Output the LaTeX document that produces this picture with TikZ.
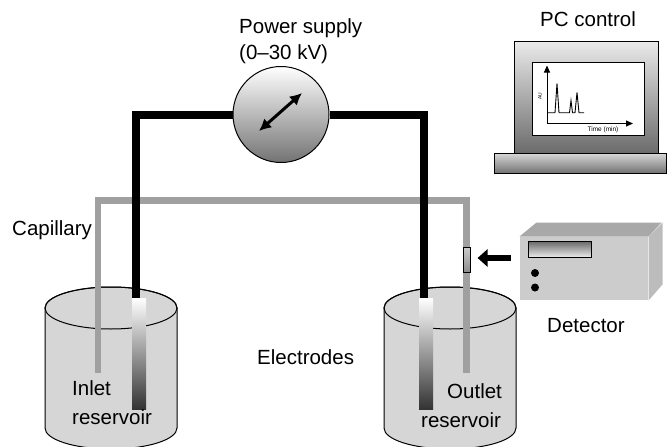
\documentclass[tikz,border=0pt]{standalone}
\usepackage{fontspec}
\setmainfont{Liberation Sans}
\usetikzlibrary{arrows.meta}

\definecolor{capgray}{RGB}{160,160,160}
\definecolor{tankgray}{RGB}{214,214,214}
\definecolor{detfront}{RGB}{204,204,204}
\definecolor{dettop}{RGB}{168,168,168}
\definecolor{detside}{RGB}{188,188,188}

\tikzset{
  lbl/.style={font=\fontsize{20.5}{25}\selectfont, inner sep=0pt, anchor=base west},
  box/.style={rectangle, inner sep=0pt, line width=1pt},
}

\begin{document}
\begin{tikzpicture}[x=1pt, y=-1pt,
    wire/.style={line width=8pt, black, line join=miter},
    capil/.style={line width=6.5pt, capgray, line join=miter},
    electrode/.style={box, minimum width=14pt, minimum height=111pt, top color=white, bottom color=black!80},
    tank/.style={draw, line width=1pt, fill=tankgray},
    axis/.style={line width=1pt, -{Triangle[length=7pt, width=6pt]}},
  ]
    \useasboundingbox (0,0) rectangle (667,447);

    % reservoirs
    \foreach \cx in {111,450}{
      \filldraw[tank] (\cx-66,308) -- (\cx-66,428)
        arc[start angle=180, end angle=0, x radius=66, y radius=21]
        -- (\cx+66,308)
        arc[start angle=0, end angle=-180, x radius=66, y radius=21] -- cycle;
      \draw[line width=1pt] (\cx,308) ellipse[x radius=66, y radius=21];
    }

    % capillary
    \coordinate (capin) at (98,373);
    \coordinate (captop) at (280,200.5);
    \coordinate (capout) at (466.5,373);
    \draw[capil] (capin) |- (captop) -| (capout);

    % power supply and electrodes
    \node[circle, draw, line width=1pt, minimum size=96pt, inner sep=0pt,
          top color=white, middle color=white!85!black, bottom color=black!55] (psu) at (281,114.5) {};
    \draw[line width=3pt, {Latex[length=12pt, width=12pt]}-{Latex[length=12pt, width=12pt]}]
      (psu.center) ++(-22,16.5) -- ++(43,-38);
    \node[electrode] (inel) at (139,353.5) {};
    \node[electrode] (outel) at (426,353.5) {};
    \draw[wire] (psu.west) -| ([xshift=-3pt]inel.north);
    \draw[wire] (psu.east) -| ([xshift=-2pt]outel.north);

    % detector
    \node[box, minimum width=128pt, minimum height=63pt, fill=detfront] (det) at (584,268.5) {};
    \fill[dettop] (det.north west) -- ++(17,-14) -- ++(125,0) -- (det.north east) -- cycle;
    \fill[detside] (det.north east) -- ++(14,-14) -- ++(0,62) -- (det.south east) -- cycle;
    \node[box, draw, line width=0.8pt, minimum width=63pt, minimum height=16pt,
          top color=black!60, bottom color=white!92!black] (disp) at (559.5,249) {};
    \fill (535,273) circle[radius=4];
    \fill (535,287.5) circle[radius=4];
    \node[box, draw, line width=0.6pt, minimum width=6.5pt, minimum height=25pt,
          top color=black!20, middle color=white, bottom color=black!45] (win) at (467,259.5) {};
    \coordinate (detin) at ([xshift=-9pt]det.west);
    \draw[line width=6pt, -{Triangle[length=10pt, width=17pt]}] (detin |- 0,258) -- ([xshift=7pt]win.east |- 0,258);

    % PC
    \node[box, draw, minimum width=144pt, minimum height=112pt,
          top color=white!92!black, bottom color=black!58] (mon) at (586,97) {};
    \node[box, draw, fill=white, minimum width=112pt, minimum height=73pt] (scr) at (588,98.5) {};
    \node[box, draw, minimum width=172pt, minimum height=20pt,
          top color=white!85!black, bottom color=black!55] (pcbase) at (580,163) {};
    \coordinate (o) at (547,123.5);
    \draw[axis] (o) -- ++(0,-58);
    \draw[axis] (o) -- ++(86,0);
    \draw[line width=0.9pt, line join=miter] (547,112.7) -- (555,112.7) -- (557,83.5) -- (559,112.7)
      -- (569.5,112.7) -- (571,100.5) -- (572.5,112.7) -- (575,112.7) -- (577,92.5) -- (579,112.7) -- (584,112.7);
    \node[rotate=90, font=\fontsize{5}{6}\selectfont, inner sep=0pt] (au) at (540,96.5) {AU};
    \node[font=\fontsize{6.5}{8}\selectfont, inner sep=0pt] (tmin) at (603,129.5) {Time (min)};

    % labels
    \node[lbl] (pslbl) at (239,33) {Power supply};
    \node[lbl] (psrange) at (239,59) {(0--30 kV)};
    \node[lbl] (pclbl) at (540,26) {PC control};
    \node[lbl] (caplbl) at (12,235) {Capillary};
    \node[lbl] (detlbl) at (547,332) {Detector};
    \node[lbl] (ellbl) at (257,364) {Electrodes};
    \node[lbl] (inlbl) at (72,395) {Inlet};
    \node[lbl] (inlbl2) at (72,424) {reservoir};
    \node[lbl] (outlbl) at (447,398) {Outlet};
    \node[lbl] (outlbl2) at (421,427) {reservoir};
\end{tikzpicture}
\end{document}
